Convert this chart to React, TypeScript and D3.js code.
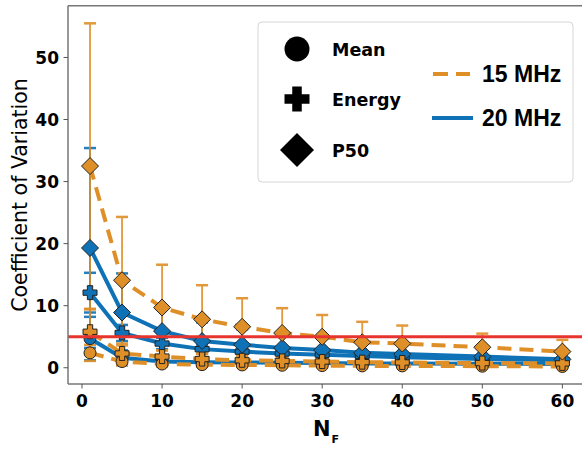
import * as d3 from 'd3';

// sample counts on the x axis
const nF = [1, 5, 10, 15, 20, 25, 30, 35, 40, 50, 60];

// 15 MHz series (values + symmetric error)
const mean15 = [2.4, 1.0, 0.6, 0.5, 0.45, 0.4, 0.35, 0.3, 0.3, 0.25, 0.2];
const mean15Err = [1.3, 0.6, 0.4, 0.3, 0.3, 0.25, 0.25, 0.2, 0.2, 0.2, 0.15];
const energy15 = [5.8, 2.3, 1.8, 1.4, 1.2, 1.1, 1.0, 0.9, 0.85, 0.75, 0.7];
const energy15Err = [3.6, 1.3, 1.0, 0.8, 0.7, 0.6, 0.55, 0.5, 0.45, 0.4, 0.35];
const p50_15 = [32.5, 14.1, 9.7, 7.8, 6.6, 5.6, 5.0, 4.1, 3.9, 3.3, 2.6];
const p50_15Err = [23.0, 10.2, 6.9, 5.5, 4.6, 4.0, 3.5, 3.3, 2.9, 2.2, 1.9];

// 20 MHz series
const mean20 = [4.7, 1.6, 1.0, 0.9, 0.85, 0.8, 0.75, 0.7, 0.7, 0.65, 0.6];
const mean20Err = [3.5, 1.2, 0.7, 0.5, 0.45, 0.4, 0.4, 0.35, 0.35, 0.3, 0.3];
const energy20 = [12.1, 5.6, 3.9, 3.0, 2.6, 2.3, 2.1, 1.9, 1.7, 1.4, 1.2];
const energy20Err = [3.2, 1.3, 0.9, 0.7, 0.6, 0.5, 0.45, 0.4, 0.4, 0.35, 0.3];
const p50_20 = [19.3, 8.9, 5.9, 4.3, 3.7, 3.2, 2.85, 2.4, 2.2, 1.8, 1.35];
const p50_20Err = [16.1, 6.3, 4.0, 3.0, 2.5, 2.2, 2.0, 1.8, 1.6, 1.3, 1.0];

const xTicks = [0, 10, 20, 30, 40, 50, 60];
const yTicks = [0, 10, 20, 30, 40, 50];
const threshold = 5;

const ORANGE = '#df8f27';
const BLUE = '#0f72b6';
const W = 582;
const H = 449;

type Shape = 'circle' | 'plus' | 'diamond';

const markerPath = (shape: Shape, s: number) => {
  if (shape === 'circle') {
    return `M${-s},0A${s},${s} 0 1,0 ${s},0A${s},${s} 0 1,0 ${-s},0Z`;
  }
  if (shape === 'diamond') {
    return `M0,${-s}L${s},0L0,${s}L${-s},0Z`;
  }
  const t = s * 0.38;
  return `M${-t},${-s}H${t}V${-t}H${s}V${t}H${t}V${s}H${-t}V${t}H${-s}V${-t}H${-t}Z`;
};

const series = [
  { vals: mean20, err: mean20Err, color: BLUE, dash: null, shape: 'circle' as Shape },
  { vals: energy20, err: energy20Err, color: BLUE, dash: null, shape: 'plus' as Shape },
  { vals: p50_20, err: p50_20Err, color: BLUE, dash: null, shape: 'diamond' as Shape },
  { vals: mean15, err: mean15Err, color: ORANGE, dash: '14,8', shape: 'circle' as Shape },
  { vals: energy15, err: energy15Err, color: ORANGE, dash: '14,8', shape: 'plus' as Shape },
  { vals: p50_15, err: p50_15Err, color: ORANGE, dash: '14,8', shape: 'diamond' as Shape },
];

const markerSize: Record<Shape, number> = { circle: 6, plus: 7, diamond: 8.5 };

export default function App() {
  const left = 68, right = 586, top = 5.7, bottom = 384;
  const x = d3.scaleLinear().domain([-1.75, 62.95]).range([left, right]);
  const y = d3.scaleLinear().domain([-2.62, 58.34]).range([bottom, top]);
  const line = d3.line<number>().x((_, i) => x(nF[i])).y(d => y(d));
  const tickFont = { fontFamily: 'DejaVu Sans', fontWeight: 'bold' as const, fontSize: 17 };

  return (
    <svg width={W} height={H} style={{ position: 'absolute', left: 0, top: 0, background: '#fff' }}>
      {/* error bars underneath */}
      {series.map((s, si) => (
        <g key={'e' + si} stroke={s.color} strokeWidth={1.8} opacity={0.9}>
          {s.vals.map((v, i) => {
            const cx = x(nF[i]);
            const y1 = y(v + s.err[i]);
            const y0 = y(v - s.err[i]);
            return (
              <g key={i}>
                <line x1={cx} x2={cx} y1={y0} y2={y1} />
                <line x1={cx - 6} x2={cx + 6} y1={y1} y2={y1} strokeWidth={2.5} />
                <line x1={cx - 6} x2={cx + 6} y1={y0} y2={y0} strokeWidth={2.5} />
              </g>
            );
          })}
        </g>
      ))}
      {/* lines + markers */}
      {series.map((s, si) => (
        <g key={'s' + si}>
          <path d={line(s.vals) || ''} fill="none" stroke={s.color} strokeWidth={4}
            strokeDasharray={s.dash || undefined} />
          {s.vals.map((v, i) => (
            <path key={i} d={markerPath(s.shape, markerSize[s.shape])}
              transform={`translate(${x(nF[i])},${y(v)})`}
              fill={s.color} stroke="#222" strokeWidth={1} />
          ))}
        </g>
      ))}
      {/* threshold */}
      <line x1={left} x2={right} y1={y(threshold)} y2={y(threshold)} stroke="#e8342e" strokeWidth={3} />

      {/* spines */}
      <g stroke="#777" strokeWidth={1.5} fill="none">
        <line x1={left} x2={left} y1={top} y2={bottom} />
        <line x1={left} x2={right} y1={top} y2={top} />
        <line x1={left} x2={right} y1={bottom} y2={bottom} />
      </g>

      {/* y axis */}
      {yTicks.map(t => (
        <g key={'y' + t} transform={`translate(${left},${y(t)})`}>
          <line x1={-4.5} x2={0} stroke="#555" strokeWidth={1} />
          <text x={-9} dy="0.36em" textAnchor="end" {...tickFont}>{t}</text>
        </g>
      ))}
      {/* x axis */}
      {xTicks.map(t => (
        <g key={'x' + t} transform={`translate(${x(t)},${bottom})`}>
          <line y1={0} y2={4.5} stroke="#555" strokeWidth={1} />
          <text y={23} textAnchor="middle" {...tickFont}>{t}</text>
        </g>
      ))}
      <text transform={`translate(27,195) rotate(-90)`} textAnchor="middle"
        fontFamily="DejaVu Sans" fontSize={20.5}>Coefficient of Variation</text>
      <text x={313} y={436} fontFamily="DejaVu Sans" fontWeight="bold" fontSize={21}>
        N<tspan dx={1} dy={7} fontSize={11}>F</tspan>
      </text>

      {/* legend */}
      <rect x={258} y={22} width={315} height={160} rx={4} fill="#fff" fillOpacity={0.85}
        stroke="#d6d6d6" strokeWidth={1} />
      {[
        { shape: 'circle' as Shape, label: 'Mean', cy: 49, size: 12.5 },
        { shape: 'plus' as Shape, label: 'Energy', cy: 99, size: 12.5 },
        { shape: 'diamond' as Shape, label: 'P50', cy: 150, size: 17 },
      ].map(l => (
        <g key={l.label}>
          <path d={markerPath(l.shape, l.size)} transform={`translate(297,${l.cy})`} fill="#000" />
          <text x={332} y={l.cy + 7} fontFamily="DejaVu Sans" fontWeight="bold" fontSize={17.5}>{l.label}</text>
        </g>
      ))}
      <line x1={433} x2={470} y1={74} y2={74} stroke={ORANGE} strokeWidth={4} strokeDasharray="15,8" />
      <text x={482} y={82} fontFamily="Liberation Sans" fontWeight="bold" fontSize={23}>15 MHz</text>
      <line x1={432} x2={473} y1={118} y2={118} stroke={BLUE} strokeWidth={4} />
      <text x={482} y={126} fontFamily="Liberation Sans" fontWeight="bold" fontSize={23}>20 MHz</text>
    </svg>
  );
}
